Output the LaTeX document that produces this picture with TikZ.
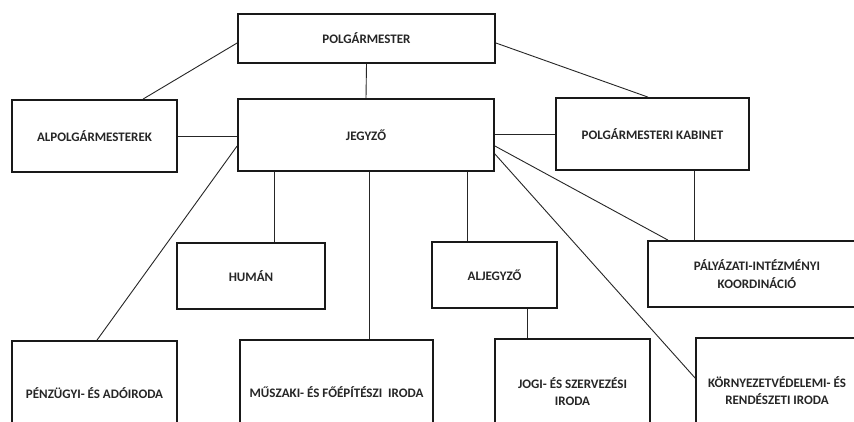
\documentclass[tikz,border=0pt]{standalone}
\usepackage{fontspec}
\setmainfont{Carlito}[BoldFont={Carlito Bold}]
\begin{document}
\begin{tikzpicture}[x=1pt,y=-1pt,
  box/.style={draw=black!90, line width=1.8pt, rectangle, inner sep=0pt, align=center,
    font=\bfseries\fontsize{13}{17.5}\selectfont, text=black!85},
  link/.style={draw=black!85, line width=0.9pt}]
\useasboundingbox (0,0) rectangle (854,421);
\clip (0,0) rectangle (854,421);
\fill[white] (0,0) rectangle (854,421);
\node[box, minimum width=257pt, minimum height=49pt] (pm) at (366.5,38.5) {POLGÁRMESTER};
\node[box, minimum width=165pt, minimum height=72pt] (alp) at (94.5,136) {ALPOLGÁRMESTEREK};
\node[box, minimum width=256pt, minimum height=72pt] (jegy) at (366,135) {JEGYZŐ};
\node[box, minimum width=193pt, minimum height=72pt] (kab) at (652.5,134) {POLGÁRMESTERI KABINET};
\node[box, minimum width=148pt, minimum height=66pt] (human) at (251,276) {HUMÁN};
\node[box, minimum width=125pt, minimum height=66pt] (aljegy) at (494.5,275) {ALJEGYZŐ};
\node[box, minimum width=218pt, minimum height=66pt] (paly) at (757,274) {PÁLYÁZATI-INTÉZMÉNYI\\KOORDINÁCIÓ};
\node[box, minimum width=165pt, minimum height=104pt] (penz) at (94.5,393) {PÉNZÜGYI- ÉS ADÓIRODA};
\node[box, minimum width=193pt, minimum height=104pt] (musz) at (336.5,392) {MŰSZAKI- ÉS FŐÉPÍTÉSZI\ \ IRODA};
\node[box, minimum width=155pt, minimum height=105pt] (jogi) at (572.5,391.5) {JOGI- ÉS SZERVEZÉSI\\IRODA};
\node[box, minimum width=162pt, minimum height=105pt] (korny) at (777,390.5) {KÖRNYEZETVÉDELEMI- ÉS\\RENDÉSZETI IRODA};
% connectors
\draw[link] (pm.south) -- (jegy.north);
\draw[link] ([yshift=-4.5pt]pm.west) -- ([xshift=48.5pt]alp.north);
\draw[link] ([yshift=-4.5pt]pm.east) -- ([xshift=-4.5pt]kab.north);
\draw[link] (alp.east) -- (alp.east -| jegy.west);
\draw[link] (kab.west -| jegy.east) -- (kab.west);
\draw[link] ([yshift=-11pt]jegy.west) -- ([xshift=2.5pt]penz.north);
\draw[link] ([xshift=23pt]human.north) -- ([xshift=23pt]human.north |- jegy.south);
\draw[link] ([xshift=32.5pt]musz.north) -- ([xshift=32.5pt]musz.north |- jegy.south);
\draw[link] ([xshift=-27.5pt]aljegy.north) -- ([xshift=-27.5pt]aljegy.north |- jegy.south);
\draw[link] ([xshift=32.5pt]aljegy.south) -- ([xshift=32.5pt]aljegy.south |- jogi.north);
\draw[link] ([xshift=41.5pt]kab.south) -- ([xshift=41.5pt]kab.south |- paly.north);
\draw[link] ([yshift=-11pt]jegy.east) -- ([xshift=-89pt]paly.north);
\draw[link] ([yshift=-19pt]jegy.east) -- ([yshift=12.5pt]korny.west);
\end{tikzpicture}
\end{document}
